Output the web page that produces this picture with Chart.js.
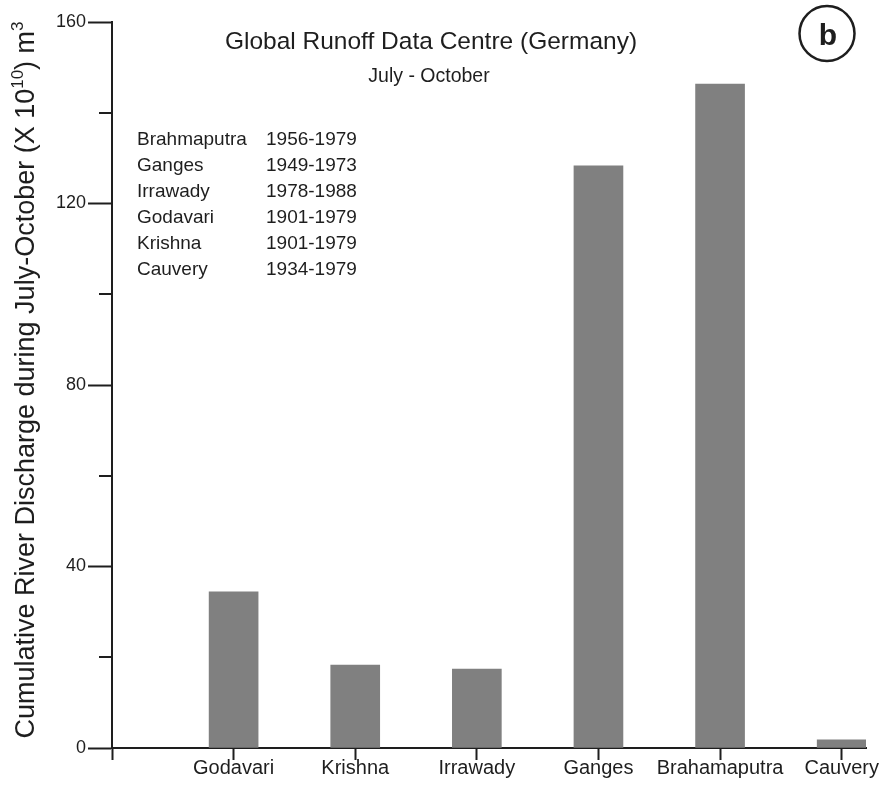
<!DOCTYPE html>
<html>
<head>
<meta charset="utf-8">
<script src="https://cdn.jsdelivr.net/npm/chart.js@4/dist/chart.umd.min.js"></script>
<style>
  html, body { margin: 0; padding: 0; background: #fff; }
  canvas { display: block; }
</style>
</head>
<body>
<canvas id="c" width="881" height="789"></canvas>
<script>
// Rivers along the x axis and their July–October cumulative discharge (x 10^10 m^3)
const categories = ['Godavari', 'Krishna', 'Irrawady', 'Ganges', 'Brahamaputra', 'Cauvery'];
const discharge  = [34.4, 18.3, 17.4, 128.3, 146.3, 1.8];

// Y axis: every 20 gets a tick, every 40 gets a label
const yTickValues  = [0, 20, 40, 60, 80, 100, 120, 140, 160];
const yLabelValues = [0, 40, 80, 120, 160];

// Record periods listed in the inset table
const stations = ['Brahmaputra', 'Ganges', 'Irrawady', 'Godavari', 'Krishna', 'Cauvery'];
const periods  = ['1956-1979', '1949-1973', '1978-1988', '1901-1979', '1901-1979', '1934-1979'];

const FONT = '"Liberation Sans", Arial, Helvetica, sans-serif';
const INK = '#1e1e1e';

const annotations = {
  id: 'annotations',
  afterDraw(chart) {
    const ctx = chart.ctx;
    const y = chart.scales.y;
    ctx.save();

    // minor ticks on the value axis
    ctx.strokeStyle = INK;
    ctx.lineWidth = 2;
    yTickValues.filter(v => !yLabelValues.includes(v)).forEach(v => {
      const py = Math.round(y.getPixelForValue(v));
      ctx.beginPath();
      ctx.moveTo(y.right - 13, py);
      ctx.lineTo(y.right, py);
      ctx.stroke();
    });

    // heading and sub-heading
    ctx.fillStyle = INK;
    ctx.textAlign = 'center';
    ctx.textBaseline = 'alphabetic';
    ctx.font = '24.5px ' + FONT;
    ctx.fillText('Global Runoff Data Centre (Germany)', 431, 49);
    ctx.font = '19.5px ' + FONT;
    ctx.fillText('July - October', 429, 82);

    // record-period table
    ctx.textAlign = 'left';
    ctx.font = '19px ' + FONT;
    stations.forEach((s, i) => {
      const by = 145 + i * 26;
      ctx.fillText(s, 137, by);
      ctx.fillText(periods[i], 266, by);
    });

    // panel badge
    ctx.beginPath();
    ctx.lineWidth = 2.5;
    ctx.arc(827, 33.5, 27.5, 0, Math.PI * 2);
    ctx.stroke();
    ctx.textAlign = 'center';
    ctx.font = 'bold 30px ' + FONT;
    ctx.fillText('b', 828, 45);

    // rotated value-axis title with superscripts
    const base = 27, sup = 17;
    const parts = [
      ['Cumulative River Discharge during July-October (X 10', false],
      ['10', true],
      [') m', false],
      ['3', true]
    ];
    let total = 0;
    parts.forEach(([t, s]) => { ctx.font = (s ? sup : base) + 'px ' + FONT; total += ctx.measureText(t).width; });
    ctx.translate(34, 380);
    ctx.rotate(-Math.PI / 2);
    ctx.textAlign = 'left';
    ctx.textBaseline = 'alphabetic';
    let x = -total / 2;
    parts.forEach(([t, s]) => {
      ctx.font = (s ? sup : base) + 'px ' + FONT;
      ctx.fillText(t, x, s ? -11 : 0);
      x += ctx.measureText(t).width;
    });
    ctx.restore();
  }
};

new Chart(document.getElementById('c'), {
  type: 'bar',
  data: {
    datasets: [{
      data: categories.map((c, i) => ({ x: i + 1, y: discharge[i] })),
      backgroundColor: '#808080',
      borderWidth: 0,
      barThickness: 49
    }]
  },
  options: {
    responsive: false,
    devicePixelRatio: 1,
    animation: false,
    layout: { padding: { top: 22, right: 15, left: 0, bottom: 0 } },
    plugins: { legend: { display: false }, tooltip: { enabled: false } },
    scales: {
      x: {
        type: 'linear',
        offset: false,
        min: 0,
        max: 6.2,
        afterBuildTicks: s => { s.ticks = [0].concat(categories.map((c, i) => i + 1)).map(v => ({ value: v })); },
        afterFit: s => { s.height = 41; },
        ticks: {
          callback: v => (v === 0 ? '' : categories[v - 1]),
          font: { family: FONT, size: 20 },
          color: INK,
          padding: -4,
          maxRotation: 0,
          autoSkip: false
        },
        grid: { offset: false, drawOnChartArea: false, tickLength: 12, tickColor: INK, tickWidth: 2 },
        border: { color: INK, width: 2 }
      },
      y: {
        min: 0,
        max: 160,
        afterBuildTicks: s => { s.ticks = yTickValues.map(v => ({ value: v })); },
        afterFit: s => { s.width = 112; },
        ticks: {
          callback: v => (yLabelValues.includes(v) ? String(v) : ''),
          font: { family: FONT, size: 18 },
          color: INK,
          padding: 2
        },
        grid: {
          drawOnChartArea: false,
          tickLength: 24,
          tickWidth: 2,
          tickColor: ctx => (ctx.tick && yLabelValues.includes(ctx.tick.value) ? INK : 'rgba(0,0,0,0)')
        },
        border: { color: INK, width: 2 }
      }
    }
  },
  plugins: [annotations]
});
</script>
</body>
</html>
